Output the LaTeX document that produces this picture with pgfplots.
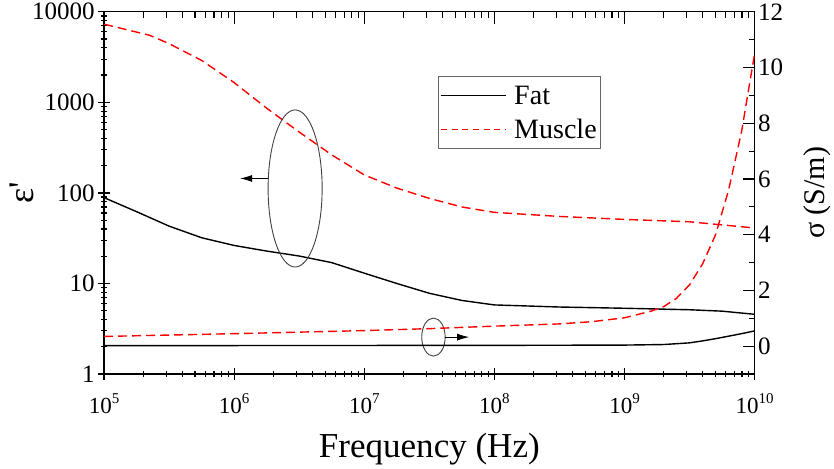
\documentclass[border=0pt]{standalone}
\usepackage{fontspec}
\setmainfont{Liberation Serif}
\usepackage{pgfplots}
\pgfplotsset{compat=1.18}
\usetikzlibrary{arrows.meta}
\newcommand{\pw}[1]{10\raisebox{0.42em}{\fontsize{15}{15}\selectfont #1}}

\begin{document}
\begin{tikzpicture}
% left axis: permittivity
\begin{axis}[
  width=650pt, height=362pt, scale only axis,
  xmode=log, xmin=1e5, xmax=1e10,
  ymode=log, ymin=1, ymax=10000,
  xtick={1e5,1e6,1e7,1e8,1e9,1e10},
  xticklabels={\pw{5},\pw{6},\pw{7},\pw{8},\pw{9},\pw{10}},
  ytick={1,10,100,1000,10000},
  yticklabels={1,10,100,1000,10000},
  xtick pos=bottom, ytick pos=left, tick align=center,
  tick style={black, line width=1.2pt},
  axis line style={line width=1.3pt},
  major tick length=12pt, minor tick length=6pt,
  yticklabel style={font=\fontsize{25}{30}\selectfont},
  xticklabel style={font=\fontsize{23}{28}\selectfont, yshift=-10pt},
  xlabel={Frequency (Hz)},
  xlabel style={font=\fontsize{35}{42}\selectfont, at={(axis description cs:0.5,-0.207)}, anchor=center},
  ylabel={ε\textquotesingle},
  ylabel style={font=\fontsize{36}{40}\selectfont, at={(axis description cs:-0.127,0.5)}, anchor=center},
  legend style={at={(axis description cs:0.514,0.822)}, anchor=north west,
    draw=black!60, line width=1pt, font=\fontsize{28}{33}\selectfont,
    inner xsep=2pt, inner ysep=7pt, row sep=9pt},
  legend cell align=left,
  legend image code/.code={\draw[#1, line width=1pt] (0pt,0pt) -- (64pt,0pt); \path (70pt,0pt);},
]
\addplot[black, line width=1.4pt] coordinates {
 (1e5,88.7) (1.78e5,62) (3.16e5,43) (5.62e5,32) (1e6,26.3) (1.78e6,22.8)
 (3.16e6,20.1) (5.62e6,17) (1e7,13) (1.78e7,10) (3.16e7,7.8) (5.62e7,6.5)
 (1e8,5.8) (3.16e8,5.5) (1e9,5.33) (3.16e9,5.13) (5.62e9,4.95) (1e10,4.57)};
\addlegendentry{Fat}
\addplot[red, line width=1.4pt, dash pattern=on 9pt off 5pt,
  legend image code/.code={\draw[red, line width=1pt, dash pattern=on 6pt off 4.5pt] (0pt,0pt) -- (64pt,0pt); \path (70pt,0pt);}] coordinates {
 (1e5,7300) (2.24e5,5500) (3.16e5,4450) (5.62e5,2900) (1e6,1650) (1.78e6,860)
 (3.16e6,470) (5.62e6,263) (1e7,158) (1.78e7,113) (3.16e7,87) (5.62e7,70)
 (1e8,61) (3.16e8,55) (1e9,51) (3.16e9,48) (1e10,41)};
\addlegendentry{Muscle}
% annotations
\draw[black!75, line width=0.9pt] (axis cs:2.94e6,112) ellipse [x radius=27pt, y radius=78.5pt];
\draw[black, line width=0.9pt, -{Latex[length=12pt,width=7pt]}]
  ([shift={(-27pt,10pt)}]axis cs:2.94e6,112) -- ++(-28pt,0pt);
\draw[black!75, line width=0.9pt] (axis cs:3.4e7,2.56) ellipse [x radius=11.7pt, y radius=19pt];
\draw[black, line width=0.9pt, -{Latex[length=12pt,width=7pt]}]
  ([shift={(11.7pt,0pt)}]axis cs:3.4e7,2.56) -- ++(24pt,0pt);
\end{axis}
% right axis: conductivity
\begin{axis}[
  width=650pt, height=362pt, scale only axis,
  xmode=log, xmin=1e5, xmax=1e10,
  ymin=-1, ymax=12,
  xtick={1e5,1e6,1e7,1e8,1e9,1e10},
  xticklabels={},
  ytick={0,2,4,6,8,10,12},
  yticklabels={0,2,4,6,8,10,12},
  minor ytick={-1,1,3,5,7,9,11},
  axis x line*=top, axis y line*=right,
  tick align=inside,
  tick style={black, line width=1.2pt},
  axis line style={line width=1.3pt},
  major tick length=12pt, minor tick length=6pt,
  tick label style={font=\fontsize{25}{30}\selectfont},
  ylabel={σ (S/m)},
  ylabel style={font=\fontsize{30}{34}\selectfont, at={(axis description cs:1.096,0.5)}, anchor=center},
]
\addplot[black, line width=1.4pt, forget plot] coordinates {
 (1e5,0.02) (1e8,0.03) (1e9,0.04) (2e9,0.06) (3.16e9,0.12) (3.98e9,0.19)
 (5.01e9,0.27) (6.31e9,0.36) (7.94e9,0.45) (1e10,0.55)};
\addplot[red, line width=1.4pt, dash pattern=on 9pt off 5pt, forget plot] coordinates {
 (1e5,0.35) (1e6,0.45) (1e7,0.56) (3.16e7,0.63) (1e8,0.72) (3.16e8,0.80)
 (5.62e8,0.88) (1e9,1.02) (1.58e9,1.25) (2e9,1.42) (2.51e9,1.72) (3.16e9,2.2)
 (3.98e9,2.95) (5.01e9,4.0) (6.31e9,5.6) (7.94e9,7.7) (1e10,10.5)};
\end{axis}
% left margin as in the reference
\path ([xshift=-104pt]current axis.west);
\end{tikzpicture}
\end{document}
